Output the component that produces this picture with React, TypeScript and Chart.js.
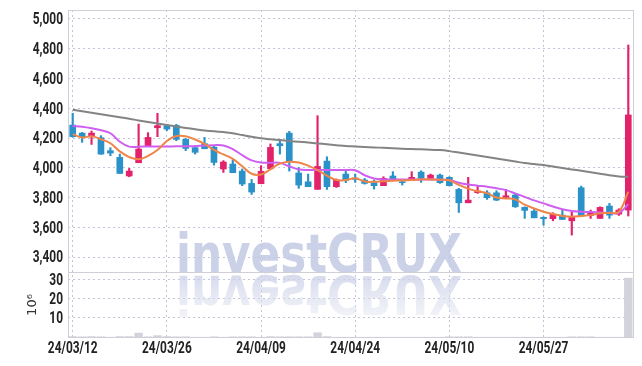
import React, { useEffect, useRef } from "react";
import { Chart, registerables } from "chart.js";

Chart.register(...registerables);

const dates = [
  "24/03/12", "24/03/13", "24/03/14", "24/03/15", "24/03/18", "24/03/19", "24/03/20", "24/03/21", "24/03/22", "24/03/25",
  "24/03/26", "24/03/27", "24/03/28", "24/03/29", "24/04/01", "24/04/02", "24/04/03", "24/04/04", "24/04/05", "24/04/08",
  "24/04/09", "24/04/11", "24/04/12", "24/04/15", "24/04/16", "24/04/17", "24/04/18", "24/04/19", "24/04/22", "24/04/23",
  "24/04/24", "24/04/25", "24/04/26", "24/04/29", "24/04/30", "24/05/02", "24/05/03", "24/05/07", "24/05/08", "24/05/09",
  "24/05/10", "24/05/13", "24/05/14", "24/05/16", "24/05/17", "24/05/20", "24/05/21", "24/05/22", "24/05/23", "24/05/24",
  "24/05/27", "24/05/28", "24/05/29", "24/05/30", "24/05/31", "24/06/03", "24/06/04", "24/06/05", "24/06/07", "24/06/10",
];

const opens = [
  4287, 4233, 4209, 4202, 4115, 4070, 3945, 4034, 4148, 4269,
  4283, 4285, 4191, 4135, 4162, 4139, 3992, 4025, 3978, 3895,
  3893, 3994, 4162, 4233, 3965, 3906, 3855, 4045, 3873, 3958,
  3931, 3918, 3900, 3880, 3945, 3906, 3918, 3971, 3929, 3951,
  3936, 3855, 3765, 3833, 3832, 3832, 3801, 3817, 3734, 3709,
  3667, 3658, 3682, 3644, 3866, 3680, 3660, 3743, 3689, 3716,
];
const highs = [
  4366, 4238, 4247, 4216, 4135, 4092, 3996, 4294, 4236, 4366,
  4292, 4292, 4197, 4148, 4204, 4150, 4048, 4054, 3992, 3922,
  4014, 4160, 4191, 4245, 4001, 3958, 4350, 4074, 3925, 3989,
  3958, 3929, 3918, 3940, 3974, 3922, 3974, 3980, 3958, 3958,
  3940, 3862, 3936, 3877, 3846, 3846, 3855, 3828, 3738, 3720,
  3671, 3698, 3720, 3705, 3877, 3716, 3738, 3761, 3725, 4825,
];
const lows = [
  4205, 4171, 4157, 4090, 4081, 3962, 3940, 4034, 4142, 4209,
  4250, 4182, 4115, 4092, 4128, 4018, 3969, 3967, 3880, 3821,
  3893, 3994, 4092, 3978, 3862, 3873, 3855, 3855, 3868, 3900,
  3902, 3890, 3857, 3880, 3913, 3884, 3918, 3902, 3922, 3895,
  3878, 3700, 3765, 3828, 3788, 3779, 3799, 3734, 3660, 3664,
  3615, 3644, 3653, 3548, 3678, 3660, 3660, 3660, 3680, 3676,
];
const closes = [
  4209, 4209, 4233, 4092, 4099, 3962, 3978, 4126, 4204, 4283,
  4260, 4191, 4130, 4104, 4128, 4036, 4039, 3967, 3891, 3837,
  3976, 4137, 4148, 4045, 3884, 3873, 4009, 3873, 3918, 3915,
  3922, 3895, 3880, 3929, 3913, 3900, 3936, 3929, 3951, 3900,
  3880, 3765, 3783, 3844, 3799, 3783, 3812, 3738, 3714, 3664,
  3658, 3689, 3653, 3667, 3678, 3698, 3734, 3682, 3716, 4355,
];

// volume in millions of shares
const volumes = [
  0.4, 0.3, 0.4, 0.3, 0.05, 0.4, 0.4, 2.2, 0.3, 0.9,
  0.4, 0.3, 0.3, 0.05, 0.05, 0.3, 0.05, 0.3, 0.3, 0.3,
  0.05, 0.4, 0.3, 0.3, 0.3, 0.3, 2.4, 0.4, 0.05, 0.05,
  0.05, 0.05, 0.05, 0.05, 0.05, 0.05, 0.05, 0.05, 0.05, 0.05,
  0.3, 0.3, 0.3, 0.05, 0.05, 0.05, 0.05, 0.05, 0.05, 0.05,
  0.05, 0.05, 0.05, 0.3, 0.3, 0.3, 0.05, 0.05, 0.05, 31,
];

// moving averages
const maShort = [
  4226, 4204, 4212, 4192, 4165, 4110, 4072, 4057, 4080, 4119,
  4180, 4213, 4212, 4190, 4160, 4120, 4090, 4060, 4010, 3960,
  3955, 3990, 4028, 4041, 4035, 4015, 3985, 3948, 3918, 3918,
  3929, 3908, 3906, 3910, 3913, 3915, 3918, 3922, 3922, 3920,
  3916, 3885, 3860, 3842, 3830, 3800, 3794, 3788, 3752, 3727,
  3705, 3689, 3676, 3671, 3676, 3682, 3694, 3698, 3705, 3839,
];
const maMid = [
  4281, 4276, 4266, 4252, 4232, 4175, 4142, 4142, 4143, 4143,
  4143, 4144, 4145, 4145, 4150, 4152, 4150, 4125, 4085, 4050,
  4035, 4034, 4033, 4010, 3990, 3985, 3985, 3985, 3985, 3985,
  3983, 3950, 3928, 3922, 3922, 3922, 3922, 3922, 3922, 3920,
  3918, 3900, 3888, 3880, 3873, 3862, 3850, 3828, 3805, 3781,
  3761, 3740, 3722, 3710, 3705, 3703, 3700, 3698, 3697, 3755,
];
const maLong = [
  4390, 4380, 4370, 4360, 4350, 4340, 4330, 4318, 4307, 4297,
  4287, 4278, 4268, 4259, 4250, 4246, 4240, 4232, 4220, 4208,
  4198, 4192, 4186, 4180, 4175, 4170, 4164, 4158, 4152, 4146,
  4143, 4140, 4137, 4134, 4131, 4128, 4126, 4124, 4121, 4119,
  4112, 4102, 4092, 4082, 4072, 4062, 4052, 4042, 4032, 4025,
  4018, 4008, 3998, 3989, 3980, 3970, 3960, 3950, 3942, 3940,
];

const priceTicks = [3400, 3600, 3800, 4000, 4200, 4400, 4600, 4800, 5000];
const volumeTicks = [10, 20, 30];
const dateTickIndexes = [0, 10, 20, 30, 40, 50];

const UP = "#e2226b";
const DOWN = "#2a92c8";
const GRID = "rgba(175,175,205,0.75)";
const BORDER = "#cfcfd8";
const LABEL_FONT = "bold 17px Roboto, 'Liberation Sans', sans-serif";
const LABEL_SX = 0.7;

function drawNarrow(ctx: any, text: string, x: number, y: number, align: "left" | "right" | "center", font: string, sx: number) {
  ctx.save();
  ctx.font = font;
  ctx.textBaseline = "middle";
  ctx.textAlign = align;
  ctx.translate(x, y);
  ctx.scale(sx, 1);
  ctx.fillText(text, 0, 0);
  ctx.restore();
}

const overlay = {
  id: "overlay",
  beforeDatasetsDraw(chart: any) {
    const ctx = chart.ctx;
    const text = "investCRUX";
    ctx.save();
    ctx.font = "bold 54px 'DejaVu Sans', sans-serif";
    const w = ctx.measureText(text).width;
    const sx = 286 / w;
    ctx.textBaseline = "alphabetic";
    ctx.textAlign = "left";
    ctx.save();
    ctx.translate(176, 272);
    ctx.scale(sx, 1);
    ctx.fillStyle = "rgba(194,202,228,0.85)";
    ctx.fillText(text, 0, 0);
    ctx.restore();
    ctx.save();
    ctx.translate(176, 276);
    ctx.scale(sx, -1);
    const g = ctx.createLinearGradient(0, 0, 0, -44);
    g.addColorStop(0, "rgba(205,210,232,0.8)");
    g.addColorStop(1, "rgba(225,228,240,0.4)");
    ctx.fillStyle = g;
    ctx.fillText(text, 0, 0);
    ctx.restore();
    ctx.restore();
  },
  afterDraw(chart: any) {
    const ctx = chart.ctx;
    ctx.save();
    ctx.strokeStyle = BORDER;
    ctx.lineWidth = 1;
    for (const id of ["y", "yVol"]) {
      const s = chart.scales[id];
      ctx.strokeRect(Math.round(s.right) + 0.5, Math.round(s.top) + 0.5, Math.round(chart.chartArea.right - s.right), Math.round(s.bottom - s.top));
    }
    ctx.fillStyle = "#222";
    const y = chart.scales.y;
    for (const v of priceTicks) {
      drawNarrow(ctx, v.toLocaleString("en-US"), 63, y.getPixelForValue(v) + 1, "right", LABEL_FONT, LABEL_SX);
    }
    const yv = chart.scales.yVol;
    for (const v of volumeTicks) {
      drawNarrow(ctx, String(v), 63, yv.getPixelForValue(v) + 1, "right", LABEL_FONT, LABEL_SX);
    }
    const x = chart.scales.x;
    for (const i of dateTickIndexes) {
      drawNarrow(ctx, dates[i], x.getPixelForValue(i), 349, "center", LABEL_FONT, LABEL_SX);
    }
    ctx.translate(33, 305);
    ctx.rotate(-Math.PI / 2);
    ctx.fillStyle = "#333";
    ctx.font = "13px 'DejaVu Sans', sans-serif";
    ctx.textAlign = "center";
    ctx.textBaseline = "middle";
    ctx.fillText("10\u2076", 0, 0);
    ctx.restore();
  },
};

export default function App() {
  const ref = useRef<HTMLCanvasElement | null>(null);

  useEffect(() => {
    if (!ref.current) return;
    const colors = opens.map((o, i) => (closes[i] >= o ? UP : DOWN));
    const lineCommon = { type: "line" as const, pointRadius: 0, borderWidth: 2, tension: 0.4, yAxisID: "y", fill: false };
    const chart = new Chart(ref.current, {
      type: "bar",
      data: {
        labels: dates,
        datasets: [
          { ...lineCommon, label: "MA5", data: maShort, borderColor: "#ef8548" },
          { ...lineCommon, label: "MA20", data: maMid, borderColor: "#cf5ff0" },
          { ...lineCommon, label: "MA60", data: maLong, borderColor: "#848484" },
          {
            type: "bar", label: "body", data: opens.map((o, i) => [o, closes[i]]) as any,
            backgroundColor: colors, barThickness: 6, grouped: false, yAxisID: "y",
          },
          {
            type: "bar", label: "wick", data: lows.map((l, i) => [l, highs[i]]) as any,
            backgroundColor: colors, barThickness: 1.5, grouped: false, yAxisID: "y",
          },
          {
            type: "bar", label: "volume", data: volumes,
            backgroundColor: "#d3d3dc", barPercentage: 0.9, categoryPercentage: 1, grouped: false, yAxisID: "yVol",
          },
        ],
      },
      options: {
        animation: false,
        responsive: false,
        layout: { padding: { top: 10, right: 9, left: 0, bottom: 0 } },
        plugins: { legend: { display: false }, tooltip: { enabled: false } },
        scales: {
          x: {
            type: "category",
            offset: true,
            grid: { offset: false, color: GRID, drawTicks: false },
            border: { display: false, dash: [2, 3] },
            ticks: { display: false, autoSkip: false, maxRotation: 0 },
            afterBuildTicks: (s: any) => { s.ticks = s.ticks.filter((t: any) => dateTickIndexes.includes(t.value)); },
            afterFit: (s: any) => { s.height = 29; },
          },
          yVol: {
            type: "linear", position: "left", stack: "panels", stackWeight: 65,
            min: 0, max: 34,
            afterBuildTicks: (s: any) => { s.ticks = volumeTicks.map((v) => ({ value: v })); },
            ticks: { display: false, autoSkip: false },
            grid: { color: GRID, drawTicks: false },
            border: { display: false, dash: [2, 3] },
            afterFit: (s: any) => { s.width = 68; },
          },
          y: {
            type: "linear", position: "left", stack: "panels", stackWeight: 262,
            min: 3300, max: 5060,
            afterBuildTicks: (s: any) => { s.ticks = priceTicks.map((v) => ({ value: v })); },
            ticks: { display: false, autoSkip: false },
            grid: { color: GRID, drawTicks: false },
            border: { display: false, dash: [2, 3] },
            afterFit: (s: any) => { s.width = 68; },
          },
        },
      } as any,
      plugins: [overlay],
    });
    return () => chart.destroy();
  }, []);

  return (
    <div style={{ position: "fixed", left: 0, top: 0, width: 642, height: 366, background: "#fff" }}>
      <canvas ref={ref} width={642} height={366} style={{ display: "block" }} />
    </div>
  );
}
